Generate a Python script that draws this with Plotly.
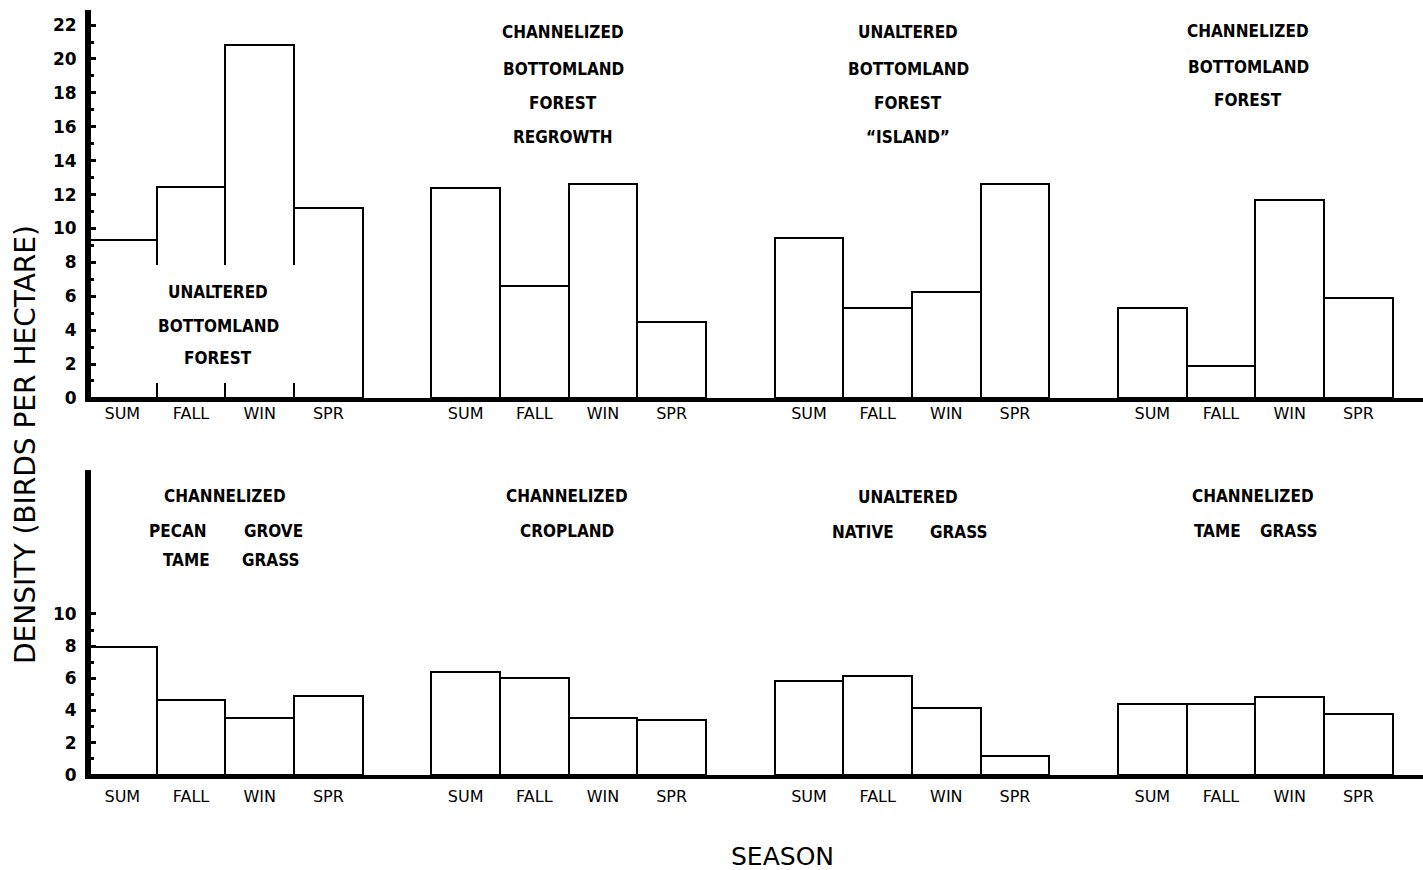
import plotly.graph_objects as go

# ---------------- data ----------------
seasons = ["SUM", "FALL", "WIN", "SPR"]

top_sites = [
    ["UNALTERED", "BOTTOMLAND", "FOREST"],
    ["CHANNELIZED", "BOTTOMLAND", "FOREST", "REGROWTH"],
    ["UNALTERED", "BOTTOMLAND", "FOREST", "\u201cISLAND\u201d"],
    ["CHANNELIZED", "BOTTOMLAND", "FOREST"],
]
top_values = [
    [9.3, 12.45, 20.8, 11.2],
    [12.4, 6.6, 12.6, 4.5],
    [9.45, 5.3, 6.25, 12.6],
    [5.3, 1.9, 11.7, 5.9],
]

bottom_sites = [
    ["CHANNELIZED", "PECAN", "GROVE", "TAME", "GRASS"],
    ["CHANNELIZED", "CROPLAND"],
    ["UNALTERED", "NATIVE", "GRASS"],
    ["CHANNELIZED", "TAME", "GRASS"],
]
bottom_values = [
    [7.95, 4.65, 3.55, 4.9],
    [6.4, 6.05, 3.55, 3.4],
    [5.85, 6.15, 4.15, 1.2],
    [4.4, 4.4, 4.85, 3.8],
]

top_yticks = list(range(0, 23, 2))
bottom_yticks = list(range(0, 11, 2))
y_title = "DENSITY (BIRDS PER HECTARE)"
x_title = "SEASON"

# ---------------- geometry ----------------
W, H, L = 1423, 870, 91
X0 = 88                      # pixel where the first bar starts
SLOT = (1118 - 88) / 15.0    # pixel width of one bar slot
SY = 1.0115                  # vertical compensation of rendered page


def px_x(px):
    return (px - L) / (W - L)


def px_y(py):
    return 1 - py * SY / H


def positions(n_groups):
    xs = []
    for g in range(n_groups):
        for s in range(len(seasons)):
            xs.append(5 * g + s + 0.5)
    return xs


xs = positions(4)
top_flat = [v for grp in top_values for v in grp]
bot_flat = [v for grp in bottom_values for v in grp]
tick_text = seasons * 4

TITLE_FONT = dict(family="DejaVu Sans Condensed, Liberation Sans Narrow, DejaVu Sans, sans-serif",
                  size=17, color="black", weight="bold")
AX_FONT = "DejaVu Sans, Liberation Sans, sans-serif"

fig = go.Figure()
bar_style = dict(color="white", line=dict(color="black", width=2))
fig.add_trace(go.Bar(x=xs, y=top_flat, width=1, marker=bar_style,
                     xaxis="x", yaxis="y", showlegend=False, hoverinfo="x+y"))
fig.add_trace(go.Bar(x=xs, y=bot_flat, width=1, marker=bar_style,
                     xaxis="x2", yaxis="y2", showlegend=False, hoverinfo="x+y"))

xrange = [(L - X0) / SLOT, (W - X0) / SLOT]
common_x = dict(
    range=xrange, showgrid=False, zeroline=False, showline=True,
    linecolor="black", linewidth=4, tickmode="array", tickvals=xs,
    ticktext=tick_text, ticks="",
    tickfont=dict(family=AX_FONT, size=16, color="black"),
)
common_y = dict(
    showgrid=False, zeroline=False, showline=True, linecolor="black",
    linewidth=6, ticks="inside", ticklen=5, tickwidth=3, tickcolor="black",
    tickfont=dict(family=AX_FONT, size=17, color="black", weight="bold"),
    ticklabelstandoff=5, tickmode="array",
)

top_base, top_top = 398, 10
bot_base, bot_top = 775, 470
top_scale, bot_scale = 16.95, 16.1

fig.update_layout(
    width=W, height=H,
    margin=dict(l=L, r=0, t=0, b=0),
    paper_bgcolor="white", plot_bgcolor="white",
    bargap=0,
    xaxis=dict(common_x, domain=[0, 1], anchor="y", ticklabelstandoff=-2),
    yaxis=dict(common_y, domain=[px_y(top_base), px_y(top_top)], anchor="x",
               range=[0, (top_base - top_top) / top_scale], tickvals=top_yticks,
               minor=dict(tickmode="array", tickvals=list(range(0, 23)),
                          ticks="inside", ticklen=3, tickwidth=3, tickcolor="black")),
    xaxis2=dict(common_x, domain=[0, 1], anchor="y2", ticklabelstandoff=4),
    yaxis2=dict(common_y, domain=[px_y(bot_base), px_y(bot_top)], anchor="x2",
                range=[0, (bot_base - bot_top) / bot_scale], tickvals=bottom_yticks,
                minor=dict(tickmode="array", tickvals=list(range(0, 11)),
                           ticks="inside", ticklen=3, tickwidth=3, tickcolor="black")),
)

# white mask where the site label interrupts the first group's bar edges
fig.add_shape(type="rect", xref="paper", yref="paper",
              x0=px_x(150), x1=px_x(302), y0=px_y(383), y1=px_y(265),
              fillcolor="white", line=dict(width=0), layer="above")

annotations = []


def add_text(text, cx, cy, font=TITLE_FONT, **kw):
    annotations.append(dict(text=text, x=px_x(cx), y=px_y(cy), xref="paper",
                            yref="paper", showarrow=False, font=font,
                            xanchor="center", yanchor="middle", **kw))


# top panel site labels (pixel positions of each line)
top_label_pos = [
    (218, [292, 326, 358]),
    (563, [32, 69, 103, 137]),
    (908, [32, 69, 103, 137]),
    (1248, [31, 67, 100]),
]
for lines, (cx, ys) in zip(top_sites, top_label_pos):
    for t, y in zip(lines, ys):
        add_text(t, cx, y)

# bottom panel site labels
b = bottom_sites
add_text(b[0][0], 225, 496)
add_text(b[0][1], 178, 531)
add_text(b[0][2], 273, 531)
add_text(b[0][3], 186, 560)
add_text(b[0][4], 270, 560)
add_text(b[1][0], 567, 496)
add_text(b[1][1], 567, 531)
add_text(b[2][0], 908, 497)
add_text(b[2][1], 863, 532)
add_text(b[2][2], 958, 532)
add_text(b[3][0], 1253, 496)
add_text(b[3][1], 1217, 531)
add_text(b[3][2], 1288, 531)

# axis titles
add_text(y_title, 26, 445, font=dict(family=AX_FONT, size=28, color="black"),
         textangle=-90)
add_text(x_title, 782, 857, font=dict(family=AX_FONT, size=25, color="black"))

fig.update_layout(annotations=annotations)

fig.write_html("out.html")
